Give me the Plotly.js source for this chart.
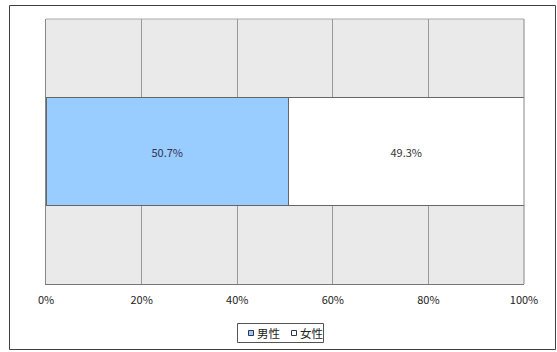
<!DOCTYPE html>
<html>
<head>
<meta charset="utf-8">
<script src="https://cdn.plot.ly/plotly-3.0.1.min.js"></script>
<style>
  html, body { margin: 0; padding: 0; background: #ffffff; }
  #chart { width: 557px; height: 352px; }
</style>
</head>
<body>
<div id="chart"></div>
<script>
// Gender split of respondents (percent of total)
const category = ['回答者'];
const seriesNames = ['男性', '女性'];
const maleValues = [50.7];
const femaleValues = [49.3];
const tickValues = [0, 20, 40, 60, 80, 100];
const tickLabels = ['0%', '20%', '40%', '60%', '80%', '100%'];

const seriesColors = ['#99ccff', '#ffffff'];
const FONT = '"Noto Sans CJK JP", "DejaVu Sans", sans-serif';

// Plot area in pixels
const W = 557, H = 352;
const PL = 46, PR = 524, PT = 19, PB = 284;
const px = x => (x - PL) / (PR - PL);
const py = y => (PB - y) / (PB - PT);

const seriesValues = [maleValues, femaleValues];
const traces = seriesNames.map((name, i) => ({
  type: 'bar',
  orientation: 'h',
  name: name,
  y: category,
  x: seriesValues[i],
  width: 0.405,
  marker: { color: seriesColors[i], line: { color: '#666666', width: 1 } },
  text: seriesValues[i].map(v => v.toFixed(1) + '%'),
  textposition: 'inside',
  insidetextanchor: 'middle',
  textfont: { family: FONT, size: 11, color: i === 0 ? '#333355' : '#333333' },
  hoverinfo: 'skip',
  showlegend: false
}));

const shapes = [
  // outer chart frame
  { type: 'rect', xref: 'paper', yref: 'paper',
    x0: px(9.5), x1: px(555.5), y0: py(5.5), y1: py(349.5),
    line: { color: '#404040', width: 1 }, fillcolor: 'rgba(0,0,0,0)', layer: 'below' },
  // top and right edges of the plot area
  { type: 'line', xref: 'paper', yref: 'paper', x0: 0, x1: 1, y0: 1, y1: 1,
    line: { color: '#aaaaaa', width: 1 } },
  { type: 'line', xref: 'paper', yref: 'paper', x0: 1, x1: 1, y0: 0, y1: 1,
    line: { color: '#888888', width: 1 } },
  // legend box
  { type: 'rect', xref: 'paper', yref: 'paper',
    x0: px(237.5), x1: px(323.5), y0: py(323.5), y1: py(342.5),
    line: { color: '#555555', width: 1 }, fillcolor: '#ffffff' }
];

const annotations = [];
const legendKeyX = [248, 291];
const legendTextX = [255, 298];
seriesNames.forEach((name, i) => {
  shapes.push({ type: 'rect', xref: 'paper', yref: 'paper',
    x0: px(legendKeyX[i] + 0.5), x1: px(legendKeyX[i] + 5.5),
    y0: py(330.5), y1: py(335.5),
    line: { color: '#333355', width: 1 }, fillcolor: seriesColors[i] });
  annotations.push({ xref: 'paper', yref: 'paper',
    x: px(legendTextX[i]), y: py(333), xanchor: 'left', yanchor: 'middle',
    text: name, showarrow: false,
    font: { family: FONT, size: 11.5, color: '#222222' } });
});

const layout = {
  width: W, height: H,
  margin: { l: PL, r: W - PR, t: PT, b: H - PB, pad: 0 },
  paper_bgcolor: '#ffffff',
  plot_bgcolor: '#eaeaea',
  barmode: 'stack',
  showlegend: false,
  font: { family: FONT, size: 11, color: '#222222' },
  xaxis: {
    range: [0, 100],
    tickvals: tickValues,
    ticktext: tickLabels,
    showgrid: true,
    gridcolor: '#999999',
    gridwidth: 1,
    zeroline: false,
    showline: true,
    linecolor: '#777777',
    linewidth: 1,
    ticks: '',
    ticklabelstandoff: 6,
    tickfont: { family: FONT, size: 11, color: '#222222' },
    fixedrange: true
  },
  yaxis: {
    range: [-0.5, 0.5],
    showticklabels: false,
    showgrid: false,
    zeroline: false,
    showline: true,
    linecolor: '#888888',
    linewidth: 1,
    ticks: '',
    fixedrange: true
  },
  shapes: shapes,
  annotations: annotations
};

Plotly.newPlot('chart', traces, layout, { displayModeBar: false, staticPlot: true });
</script>
</body>
</html>
